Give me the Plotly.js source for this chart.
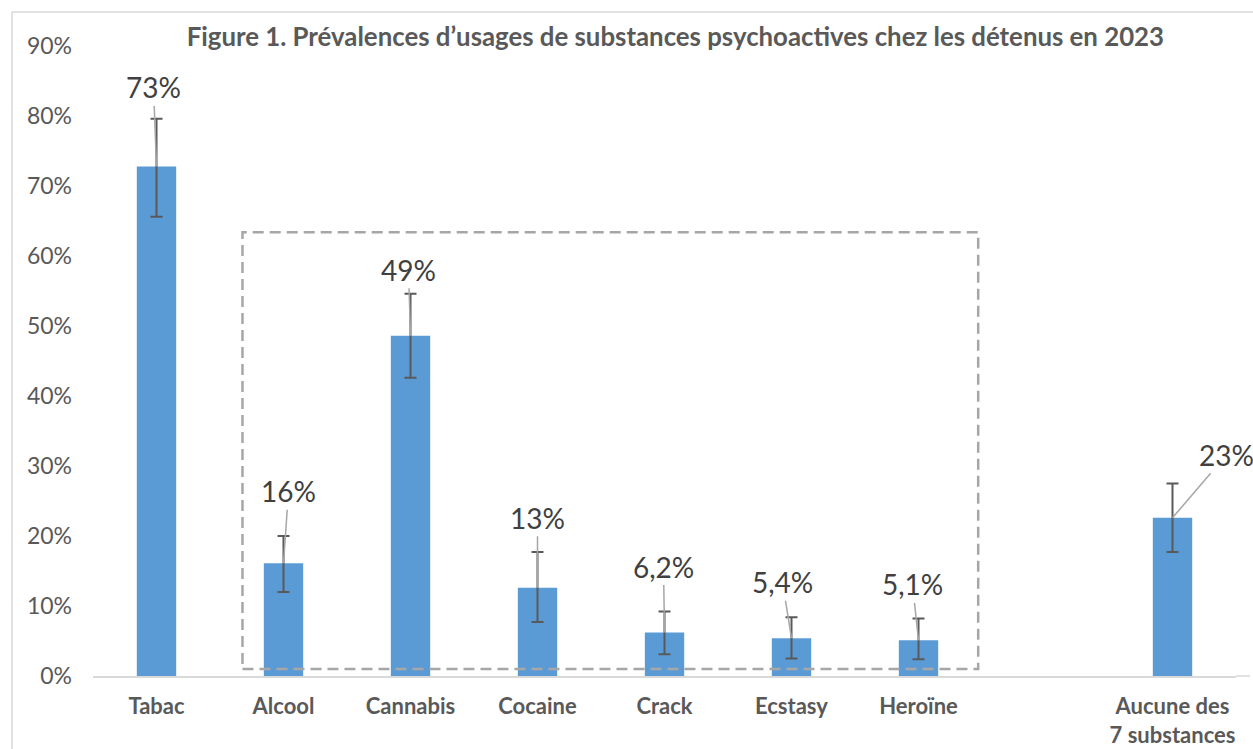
<!DOCTYPE html>
<html>
<head>
<meta charset="utf-8">
<script src="https://cdn.plot.ly/plotly-3.0.1.min.js"></script>
<style>html,body{margin:0;padding:0;background:#fff;overflow:hidden;}#chart{width:1253px;height:749px;}</style>
</head>
<body>
<div id="chart"></div>
<script>
const categories = ["Tabac", "Alcool", "Cannabis", "Cocaine", "Crack", "Ecstasy", "Heroïne", " ", "Aucune des<br>7 substances"];
const values = [72.8, 16.1, 48.6, 12.6, 6.2, 5.4, 5.1, null, 22.6];
const upperBound = [79.6, 20.0, 54.6, 17.7, 9.2, 8.4, 8.2, null, 27.5];
const lowerBound = [65.6, 12.0, 42.6, 7.7, 3.1, 2.5, 2.4, null, 17.7];
const labels = ["73%", "16%", "49%", "13%", "6,2%", "5,4%", "5,1%", null, "23%"];
const labelOffsets = [[-3, -79], [5, -72], [-2, -66], [0, -70], [-1, -66], [-9, -56], [-6, -56], null, [54, -63]];
const yTickVals = [0, 10, 20, 30, 40, 50, 60, 70, 80, 90];
const yTickText = ["0%", "10%", "20%", "30%", "40%", "50%", "60%", "70%", "80%", "90%"];

const FONT = "Lato, 'Liberation Sans', sans-serif";
const plus = values.map((v, i) => v == null ? null : +(upperBound[i] - v).toFixed(2));
const minus = values.map((v, i) => v == null ? null : +(v - lowerBound[i]).toFixed(2));

const trace = {
  type: "bar",
  x: categories,
  y: values,
  width: 0.31,
  marker: {color: "#5b9bd5"},
  error_y: {type: "data", symmetric: false, array: plus, arrayminus: minus, color: "#595959", thickness: 2, width: 6},
  hoverinfo: "x+y"
};

const annotations = [];
categories.forEach((c, i) => {
  if (labels[i] == null) return;
  annotations.push({
    x: c, y: values[i], xref: "x", yref: "y",
    text: labels[i], showarrow: true, arrowhead: 0, arrowwidth: 1.5, arrowcolor: "#a6a6a6",
    ax: labelOffsets[i][0], ay: labelOffsets[i][1],
    font: {family: FONT, size: 28, color: "#404040"}
  });
});

const layout = {
  width: 1253, height: 749,
  margin: {l: 93, r: 17, t: 46, b: 73},
  paper_bgcolor: "#ffffff", plot_bgcolor: "#ffffff",
  showlegend: false,
  title: {
    text: "<b>Figure 1. Prévalences d’usages de substances psychoactives chez les détenus en 2023</b>",
    font: {family: FONT, size: 25.8, color: "#595959"},
    x: 0.539, xanchor: "center", y: 0.951, yanchor: "middle"
  },
  xaxis: {
    type: "category", categoryorder: "array", categoryarray: categories,
    range: [-0.5, 8.5], automargin: false,
    showgrid: false, zeroline: false, showline: true, linecolor: "#d9d9d9", linewidth: 1.5,
    ticks: "", ticklabelstandoff: 10,
    tickfont: {family: FONT, size: 22, color: "#595959", weight: "bold"}
  },
  yaxis: {
    range: [0, 90], tickvals: yTickVals, ticktext: yTickText, automargin: false,
    showgrid: false, zeroline: false, showline: false, ticks: "", ticklabelstandoff: 20,
    tickfont: {family: FONT, size: 23, color: "#595959"}
  },
  annotations: annotations,
  shapes: [
    {type: "rect", xref: "x", yref: "y", x0: 0.677, x1: 6.47, y0: 1.0, y1: 63.4,
     line: {color: "#a6a6a6", width: 2.5, dash: "11px,6px"}, fillcolor: "rgba(0,0,0,0)", layer: "above"},
    {type: "line", xref: "paper", yref: "paper", x0: 1, x1: 1.0122, y0: 0, y1: 0,
     line: {color: "#d9d9d9", width: 1.5}},
    {type: "rect", xref: "paper", yref: "paper", x0: -0.0709, x1: 1.2, y0: -0.3, y1: 1.054,
     line: {color: "#d9d9d9", width: 1.5}, fillcolor: "rgba(0,0,0,0)"}
  ]
};

Plotly.newPlot("chart", [trace], layout, {displayModeBar: false, responsive: false});
</script>
</body>
</html>
